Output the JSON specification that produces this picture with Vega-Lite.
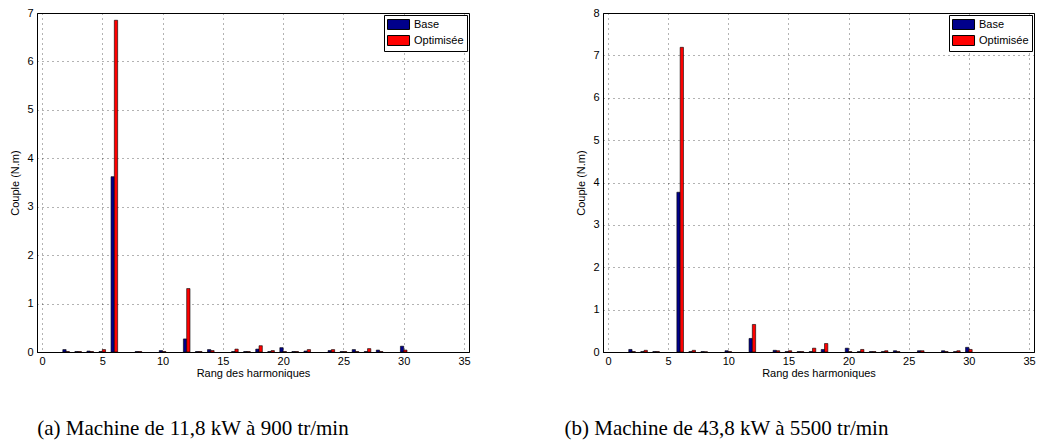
{
  "$schema": "https://vega.github.io/schema/vega-lite/v6.json",
  "autosize": {"type": "pad"},
  "padding": {"left": 9, "top": 6, "right": 0, "bottom": 0},
  "bounds": "flush",
  "spacing": 134,
  "background": "white",
  "config": {
    "font": "Liberation Sans",
    "view": {"stroke": "#000", "strokeWidth": 1},
    "axis": {
      "labelFont": "Liberation Sans", "labelFontSize": 11, "labelColor": "#000",
      "titleFont": "Liberation Sans", "titleFontSize": 11, "titleFontWeight": "normal", "titleColor": "#000",
      "domainColor": "#000", "tickColor": "#000", "tickSize": 0,
      "grid": true, "gridColor": "#000", "gridDash": [1, 4], "gridOpacity": 0.6
    },
    "legend": {
      "orient": "top-right", "offset": 2, "fillColor": "white", "strokeColor": "#000",
      "padding": 3, "title": null, "symbolType": "M-1,-0.83H2.67V0.83H-1Z", "symbolSize": 144,
      "symbolStrokeColor": "#000", "symbolStrokeWidth": 1, "symbolOpacity": 1,
      "labelFont": "Liberation Sans", "labelFontSize": 11, "labelColor": "#000", "rowPadding": 1,
      "labelOffset": 14
    }
  },
  "datasets": {
    "a": [
      {"h": 2, "serie": "Base", "v": 0.05}, {"h": 2, "serie": "Optimisée", "v": 0.01},
      {"h": 3, "serie": "Base", "v": 0.01}, {"h": 3, "serie": "Optimisée", "v": 0.01},
      {"h": 4, "serie": "Base", "v": 0.02}, {"h": 4, "serie": "Optimisée", "v": 0.01},
      {"h": 5, "serie": "Base", "v": 0.01}, {"h": 5, "serie": "Optimisée", "v": 0.05},
      {"h": 6, "serie": "Base", "v": 3.62}, {"h": 6, "serie": "Optimisée", "v": 6.85},
      {"h": 8, "serie": "Base", "v": 0.01}, {"h": 8, "serie": "Optimisée", "v": 0.01},
      {"h": 10, "serie": "Base", "v": 0.03}, {"h": 10, "serie": "Optimisée", "v": 0.01},
      {"h": 12, "serie": "Base", "v": 0.27}, {"h": 12, "serie": "Optimisée", "v": 1.31},
      {"h": 13, "serie": "Base", "v": 0.01}, {"h": 13, "serie": "Optimisée", "v": 0.01},
      {"h": 14, "serie": "Base", "v": 0.05}, {"h": 14, "serie": "Optimisée", "v": 0.03},
      {"h": 16, "serie": "Base", "v": 0.01}, {"h": 16, "serie": "Optimisée", "v": 0.06},
      {"h": 17, "serie": "Base", "v": 0.01}, {"h": 17, "serie": "Optimisée", "v": 0.01},
      {"h": 18, "serie": "Base", "v": 0.06}, {"h": 18, "serie": "Optimisée", "v": 0.13},
      {"h": 19, "serie": "Base", "v": 0.01}, {"h": 19, "serie": "Optimisée", "v": 0.03},
      {"h": 20, "serie": "Base", "v": 0.09}, {"h": 20, "serie": "Optimisée", "v": 0.01},
      {"h": 21, "serie": "Base", "v": 0.01}, {"h": 21, "serie": "Optimisée", "v": 0.01},
      {"h": 22, "serie": "Base", "v": 0.02}, {"h": 22, "serie": "Optimisée", "v": 0.05},
      {"h": 24, "serie": "Base", "v": 0.03}, {"h": 24, "serie": "Optimisée", "v": 0.05},
      {"h": 25, "serie": "Base", "v": 0.01}, {"h": 25, "serie": "Optimisée", "v": 0.01},
      {"h": 26, "serie": "Base", "v": 0.05}, {"h": 26, "serie": "Optimisée", "v": 0.01},
      {"h": 27, "serie": "Base", "v": 0.01}, {"h": 27, "serie": "Optimisée", "v": 0.07},
      {"h": 28, "serie": "Base", "v": 0.04}, {"h": 28, "serie": "Optimisée", "v": 0.01},
      {"h": 30, "serie": "Base", "v": 0.12}, {"h": 30, "serie": "Optimisée", "v": 0.04}
    ],
    "b": [
      {"h": 2, "serie": "Base", "v": 0.06}, {"h": 2, "serie": "Optimisée", "v": 0.01},
      {"h": 3, "serie": "Base", "v": 0.01}, {"h": 3, "serie": "Optimisée", "v": 0.04},
      {"h": 4, "serie": "Base", "v": 0.01}, {"h": 4, "serie": "Optimisée", "v": 0.01},
      {"h": 6, "serie": "Base", "v": 3.77}, {"h": 6, "serie": "Optimisée", "v": 7.19},
      {"h": 7, "serie": "Base", "v": 0.01}, {"h": 7, "serie": "Optimisée", "v": 0.04},
      {"h": 8, "serie": "Base", "v": 0.01}, {"h": 8, "serie": "Optimisée", "v": 0.005},
      {"h": 10, "serie": "Base", "v": 0.03}, {"h": 10, "serie": "Optimisée", "v": 0.01},
      {"h": 12, "serie": "Base", "v": 0.32}, {"h": 12, "serie": "Optimisée", "v": 0.65},
      {"h": 14, "serie": "Base", "v": 0.04}, {"h": 14, "serie": "Optimisée", "v": 0.03},
      {"h": 15, "serie": "Base", "v": 0.01}, {"h": 15, "serie": "Optimisée", "v": 0.03},
      {"h": 16, "serie": "Base", "v": 0.01}, {"h": 16, "serie": "Optimisée", "v": 0.01},
      {"h": 17, "serie": "Base", "v": 0.01}, {"h": 17, "serie": "Optimisée", "v": 0.09},
      {"h": 18, "serie": "Base", "v": 0.06}, {"h": 18, "serie": "Optimisée", "v": 0.2},
      {"h": 20, "serie": "Base", "v": 0.09}, {"h": 20, "serie": "Optimisée", "v": 0.01},
      {"h": 21, "serie": "Base", "v": 0.01}, {"h": 21, "serie": "Optimisée", "v": 0.06},
      {"h": 22, "serie": "Base", "v": 0.01}, {"h": 22, "serie": "Optimisée", "v": 0.01},
      {"h": 23, "serie": "Base", "v": 0.01}, {"h": 23, "serie": "Optimisée", "v": 0.03},
      {"h": 24, "serie": "Base", "v": 0.03}, {"h": 24, "serie": "Optimisée", "v": 0.01},
      {"h": 26, "serie": "Base", "v": 0.03}, {"h": 26, "serie": "Optimisée", "v": 0.03},
      {"h": 28, "serie": "Base", "v": 0.03}, {"h": 28, "serie": "Optimisée", "v": 0.01},
      {"h": 29, "serie": "Base", "v": 0.01}, {"h": 29, "serie": "Optimisée", "v": 0.03},
      {"h": 30, "serie": "Base", "v": 0.11}, {"h": 30, "serie": "Optimisée", "v": 0.06}
    ]
  },
  "resolve": {"scale": {"color": "independent"}},
  "hconcat": [
    {
      "width": 432, "height": 339,
      "data": {"name": "a"},
      "title": {"text": "(a) Machine de 11,8 kW à 900 tr/min", "orient": "bottom", "anchor": "middle", "font": "Liberation Serif", "fontSize": 21, "fontWeight": "normal", "color": "#000", "offset": 40, "dx": -60},
      "encoding": {
        "x": {"field": "h", "type": "quantitative", "scale": {"domain": [0, 35], "nice": false, "zero": false}, "axis": {"values": [0, 5, 10, 15, 20, 25, 30, 35], "title": "Rang des harmoniques", "titlePadding": 1, "labelPadding": 3}},
        "y": {"field": "v", "type": "quantitative", "scale": {"domain": [0, 7], "nice": false}, "axis": {"values": [0, 1, 2, 3, 4, 5, 6, 7], "title": "Couple (N.m)", "titlePadding": 6, "labelPadding": 4}},
        "color": {"field": "serie", "type": "nominal", "scale": {"domain": ["Base", "Optimisée"], "range": ["#00008B", "#FF0000"]}}
      },
      "layer": [
        {"transform": [{"filter": "datum.serie === 'Base'"}], "mark": {"type": "bar", "width": 3.3, "xOffset": -1.65, "stroke": "#000", "strokeWidth": 0.6, "opacity": 1}},
        {"transform": [{"filter": "datum.serie === 'Optimisée'"}], "mark": {"type": "bar", "width": 3.3, "xOffset": 1.65, "stroke": "#000", "strokeWidth": 0.6, "opacity": 1}}
      ]
    },
    {
      "width": 431, "height": 339,
      "data": {"name": "b"},
      "title": {"text": "(b) Machine de 43,8 kW à 5500 tr/min", "orient": "bottom", "anchor": "middle", "font": "Liberation Serif", "fontSize": 21, "fontWeight": "normal", "color": "#000", "offset": 40, "dx": -92},
      "encoding": {
        "x": {"field": "h", "type": "quantitative", "scale": {"domain": [0, 35], "nice": false, "zero": false}, "axis": {"values": [0, 5, 10, 15, 20, 25, 30, 35], "title": "Rang des harmoniques", "titlePadding": 1, "labelPadding": 3}},
        "y": {"field": "v", "type": "quantitative", "scale": {"domain": [0, 8], "nice": false}, "axis": {"values": [0, 1, 2, 3, 4, 5, 6, 7, 8], "title": "Couple (N.m)", "titlePadding": 6, "labelPadding": 4}},
        "color": {"field": "serie", "type": "nominal", "scale": {"domain": ["Base", "Optimisée"], "range": ["#00008B", "#FF0000"]}}
      },
      "layer": [
        {"transform": [{"filter": "datum.serie === 'Base'"}], "mark": {"type": "bar", "width": 3.3, "xOffset": -1.65, "stroke": "#000", "strokeWidth": 0.6, "opacity": 1}},
        {"transform": [{"filter": "datum.serie === 'Optimisée'"}], "mark": {"type": "bar", "width": 3.3, "xOffset": 1.65, "stroke": "#000", "strokeWidth": 0.6, "opacity": 1}}
      ]
    }
  ]
}
